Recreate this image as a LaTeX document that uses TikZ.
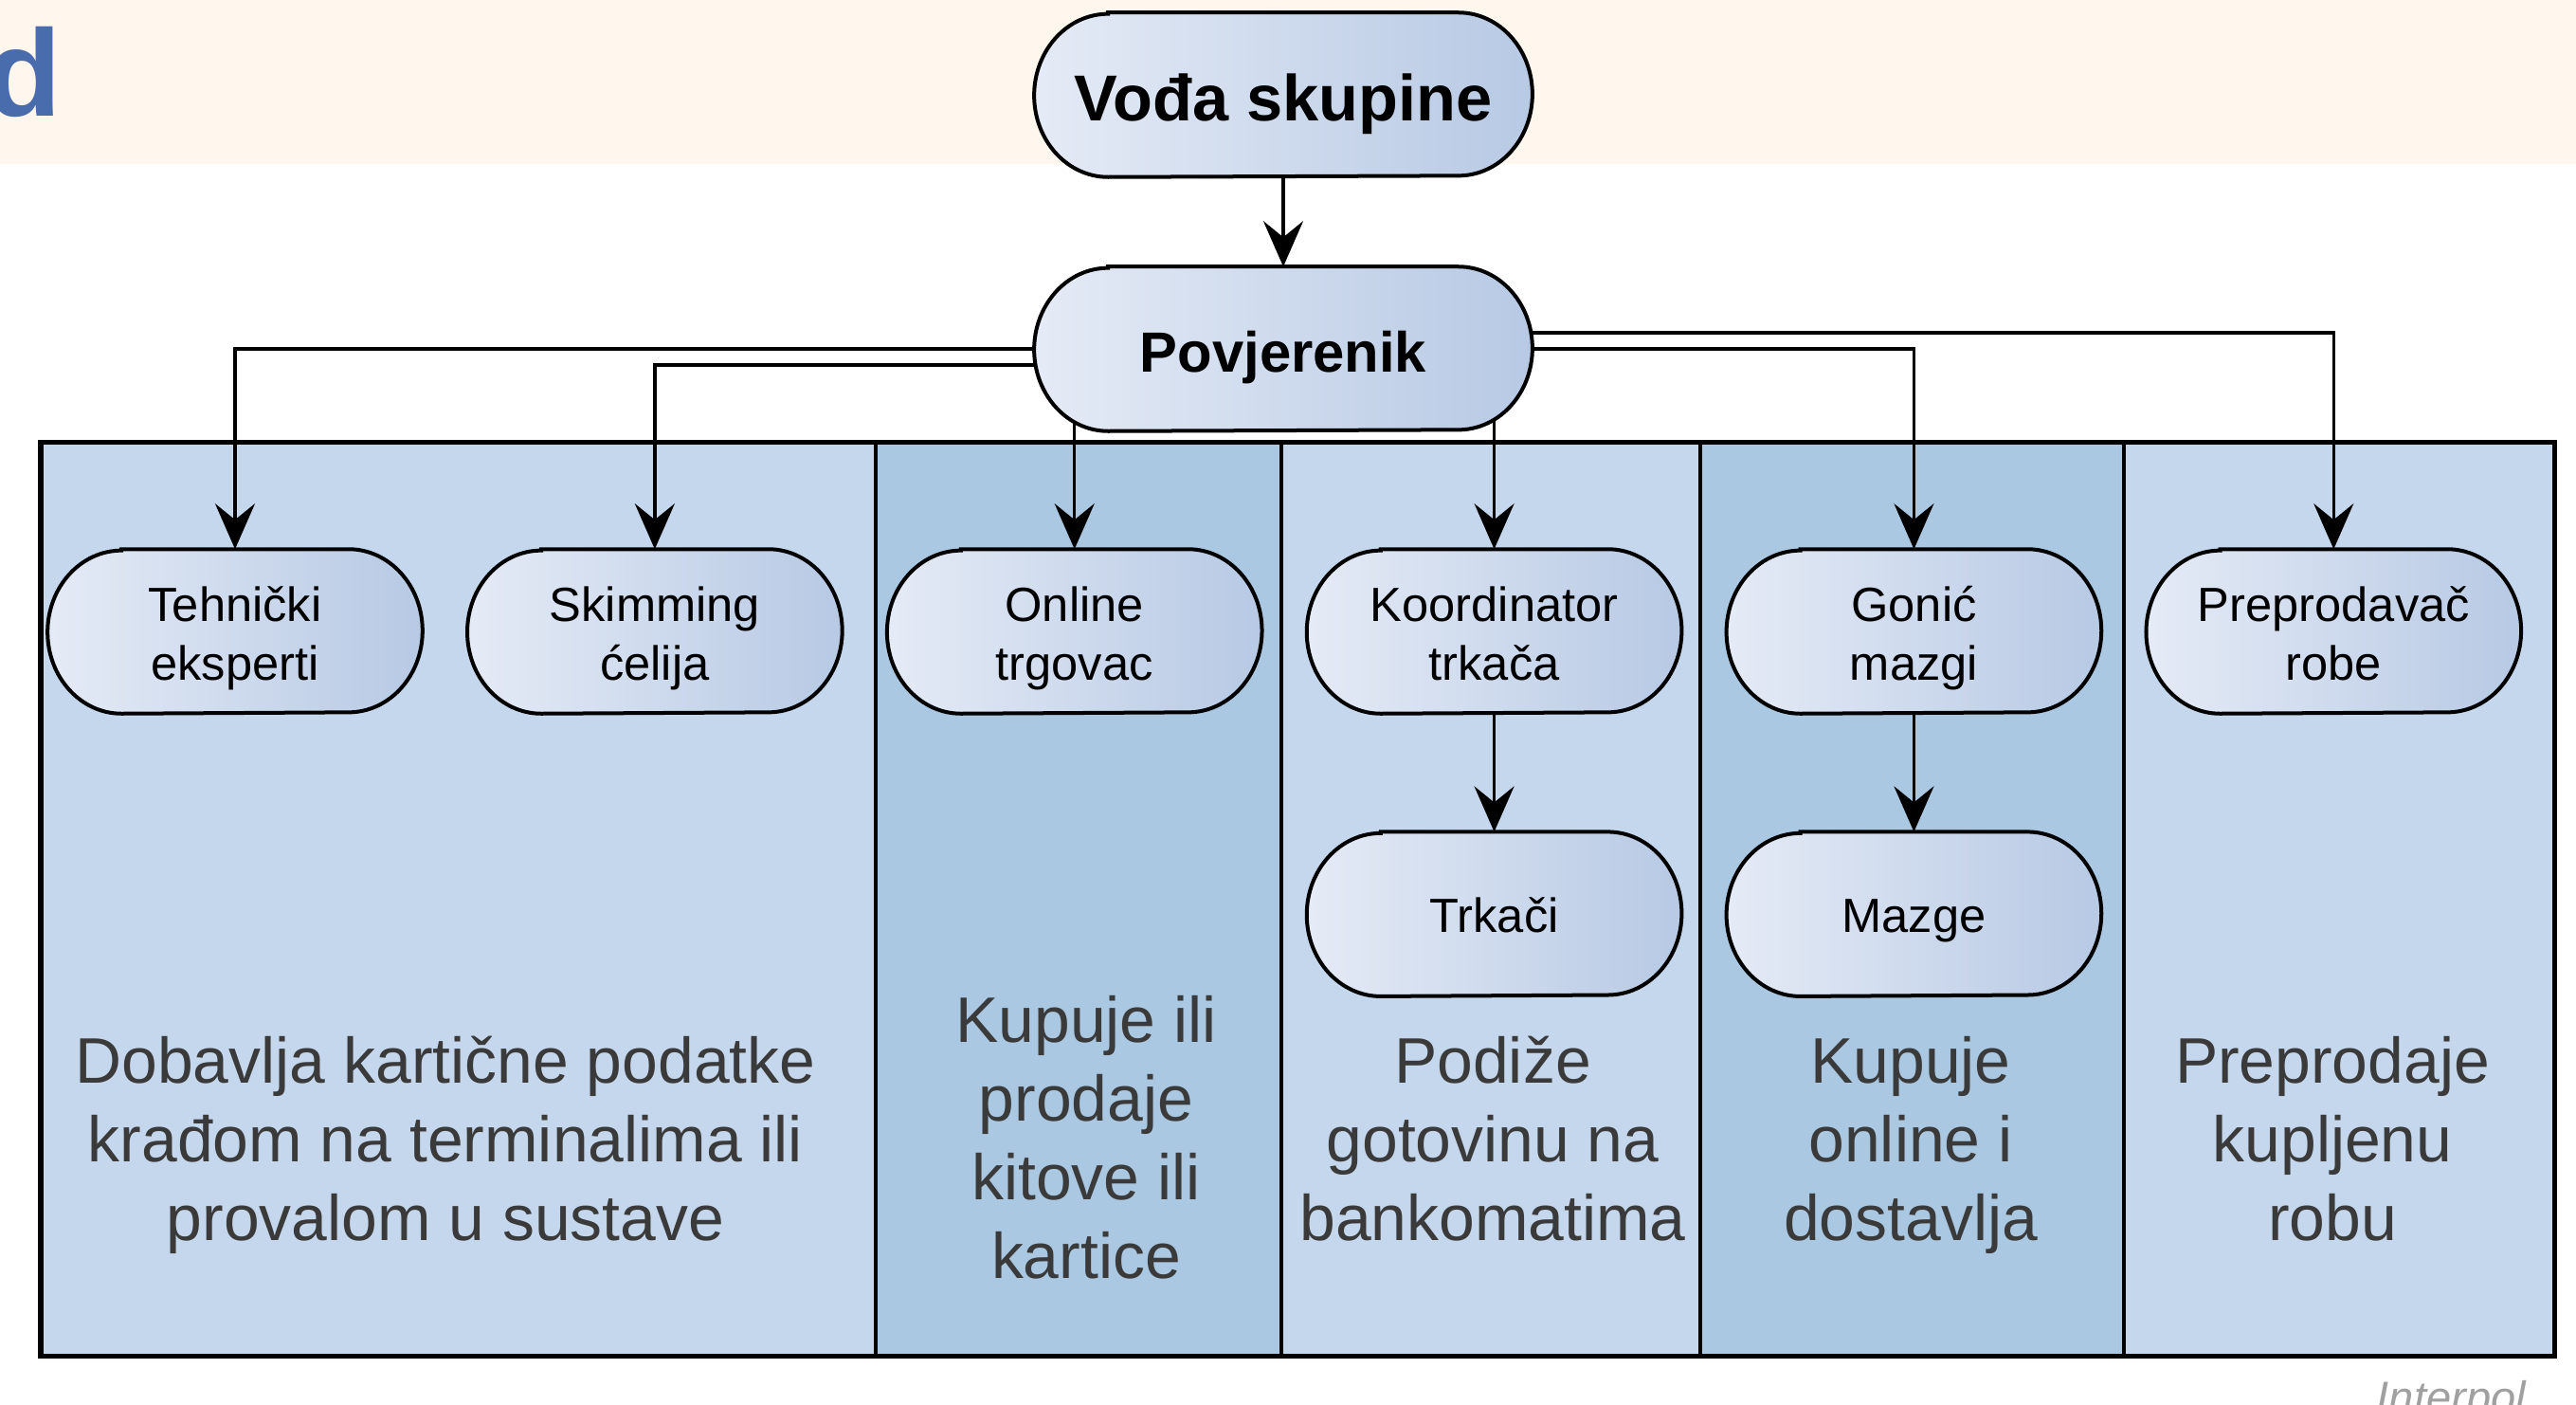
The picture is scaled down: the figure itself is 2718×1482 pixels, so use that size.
\documentclass[tikz,border=0pt]{standalone}
\usepackage{fontspec}
\setmainfont{Liberation Sans}
\usepackage{tikz}
\usetikzlibrary{arrows.meta}
\usetikzlibrary{calc,positioning}

\definecolor{bandcream}{RGB}{255,247,237}
\definecolor{titleblue}{RGB}{72,108,172}
\definecolor{lanelight}{RGB}{197,215,236}
\definecolor{lanedark}{RGB}{170,200,226}
\definecolor{pillleft}{RGB}{229,235,246}
\definecolor{pillright}{RGB}{183,201,228}
\definecolor{notegray}{RGB}{58,58,58}
\definecolor{srcgray}{RGB}{160,160,160}

\pgfdeclarelayer{lanes}
\pgfdeclarelayer{edges}
\pgfdeclarelayer{pills}
\pgfsetlayers{lanes,edges,pills,main}

% stadium outline round a named node
\newcommand{\pill}[1]{%
\begin{pgfonlayer}{pills}
\draw [line width=0.04cm,left color=pillleft,right color=pillright] ($(#1.north west)+(0.78cm,0)$) -- ($(#1.north east)+(-0.78cm,0)$) arc [start angle=90,end angle=-90,x radius=0.78cm,y radius=0.86cm] -- ($(#1.south west)+(0.78cm,0)$) arc [start angle=270,end angle=90,x radius=0.78cm,y radius=0.86cm] -- cycle;
\end{pgfonlayer}}

\begin{document}
\begin{tikzpicture}[x=0.01cm,y=-0.01cm]
\tikzstyle{role}=[minimum width=3.94cm,minimum height=1.72cm,inner sep=0pt,align=center,font=\fontsize{14.4pt}{17.6pt}\selectfont,
  execute at begin node={\rule{0pt}{13.9pt}},execute at end node={\rule[-3.1pt]{0pt}{3.1pt}}]
\tikzstyle{role2}=[role,execute at begin node={\rule{0pt}{32.2pt}}]
\tikzstyle{boss}=[role,minimum width=5.24cm,font=\bfseries\fontsize{17pt}{20pt}\selectfont,
  execute at begin node={\rule{0pt}{17.5pt}},execute at end node={\rule[-1pt]{0pt}{1pt}}]
\tikzstyle{lanetext}=[align=center,inner sep=0pt,text=notegray,font=\fontsize{19.3pt}{23.6pt}\selectfont]
\tikzstyle{link}=[line width=0.033cm,-{Stealth[length=0.48cm,width=0.42cm,inset=0.17cm]}]

\useasboundingbox (0,0) rectangle (2718,1482);

\begin{pgfonlayer}{lanes}
\fill [bandcream] (0,0) rectangle (2718,173);

\fill [lanelight] (43,466) rectangle (924,1430);
\fill [lanedark] (924,466) rectangle (1352,1430);
\fill [lanelight] (1352,466) rectangle (1794,1430);
\fill [lanedark] (1794,466) rectangle (2241,1430);
\fill [lanelight] (2241,466) rectangle (2695,1430);

\draw [line width=0.04cm] (924,466) -- (924,1430);
\draw [line width=0.04cm] (1352,466) -- (1352,1430);
\draw [line width=0.04cm] (1794,466) -- (1794,1430);
\draw [line width=0.04cm] (2241,466) -- (2241,1430);
\draw [line width=0.05cm] (43,466) rectangle (2695,1430);
\end{pgfonlayer}

\node (title) [anchor=base west,inner sep=0pt,text=titleblue,font=\bfseries\fontsize{37pt}{40pt}\selectfont] at (-15,123) {d};

\node (voda) [boss,font=\bfseries\fontsize{19.5pt}{22pt}\selectfont,execute at begin node={\rule{0pt}{19.5pt}}] at (1354,100) {Vođa skupine};
\pill{voda}
\node (povj) [boss] at (1354,368) {Povjerenik};
\pill{povj}

\node (tech) [role2] at (248,666) {Tehnički\\eksperti};
\pill{tech}
\node (skim) [role2,xshift=4.426cm] at (tech) {Skimming\\ćelija};
\pill{skim}
\node (onl) [role2,xshift=4.426cm] at (skim) {Online\\trgovac};
\pill{onl}
\node (koord) [role2,xshift=4.426cm] at (onl) {Koordinator\\trkača};
\pill{koord}
\node (gonic) [role2,xshift=4.426cm] at (koord) {Gonić\\mazgi};
\pill{gonic}
\node (prep) [role2,xshift=4.426cm] at (gonic) {Preprodavač\\robe};
\pill{prep}

\node (trk) [role,yshift=-2.98cm] at (koord) {Trkači};
\pill{trk}
\node (mazge) [role,yshift=-2.98cm] at (gonic) {Mazge};
\pill{mazge}

\begin{pgfonlayer}{edges}
\draw [link] (voda.south) -- (povj.north);
\draw [link] (povj.center) -| (tech.north);
\draw [link] ([yshift=-0.17cm]povj.center) -| (skim.north);
\draw [link] (onl.north |- povj.center) -- (onl.north);
\draw [link] (koord.north |- povj.center) -- (koord.north);
\draw [link] (povj.center) -| (gonic.north);
\draw [link] ([yshift=0.17cm]povj.center) -| (prep.north);
\draw [link] (koord.south) -- (trk.north);
\draw [link] (gonic.south) -- (mazge.north);
\end{pgfonlayer}

\node (note1) [lanetext] at (470,1208) {Dobavlja kartične podatke\\krađom na terminalima ili\\provalom u sustave};
\node (note2) [lanetext] at (1146,1200) {Kupuje ili\\prodaje\\kitove ili\\kartice};
\node (note3) [lanetext] at (1575,1201) {Podiže\\gotovinu na\\bankomatima};
\node (note4) [lanetext] at (2016,1208) {Kupuje\\online i\\dostavlja};
\node (note5) [lanetext] at (2461,1201) {Preprodaje\\kupljenu\\robu};

\node (src) [anchor=base west,inner sep=0pt,text=srcgray,font=\itshape\fontsize{13.4pt}{15pt}\selectfont] at (2507,1490) {Interpol};
\end{tikzpicture}
\end{document}
